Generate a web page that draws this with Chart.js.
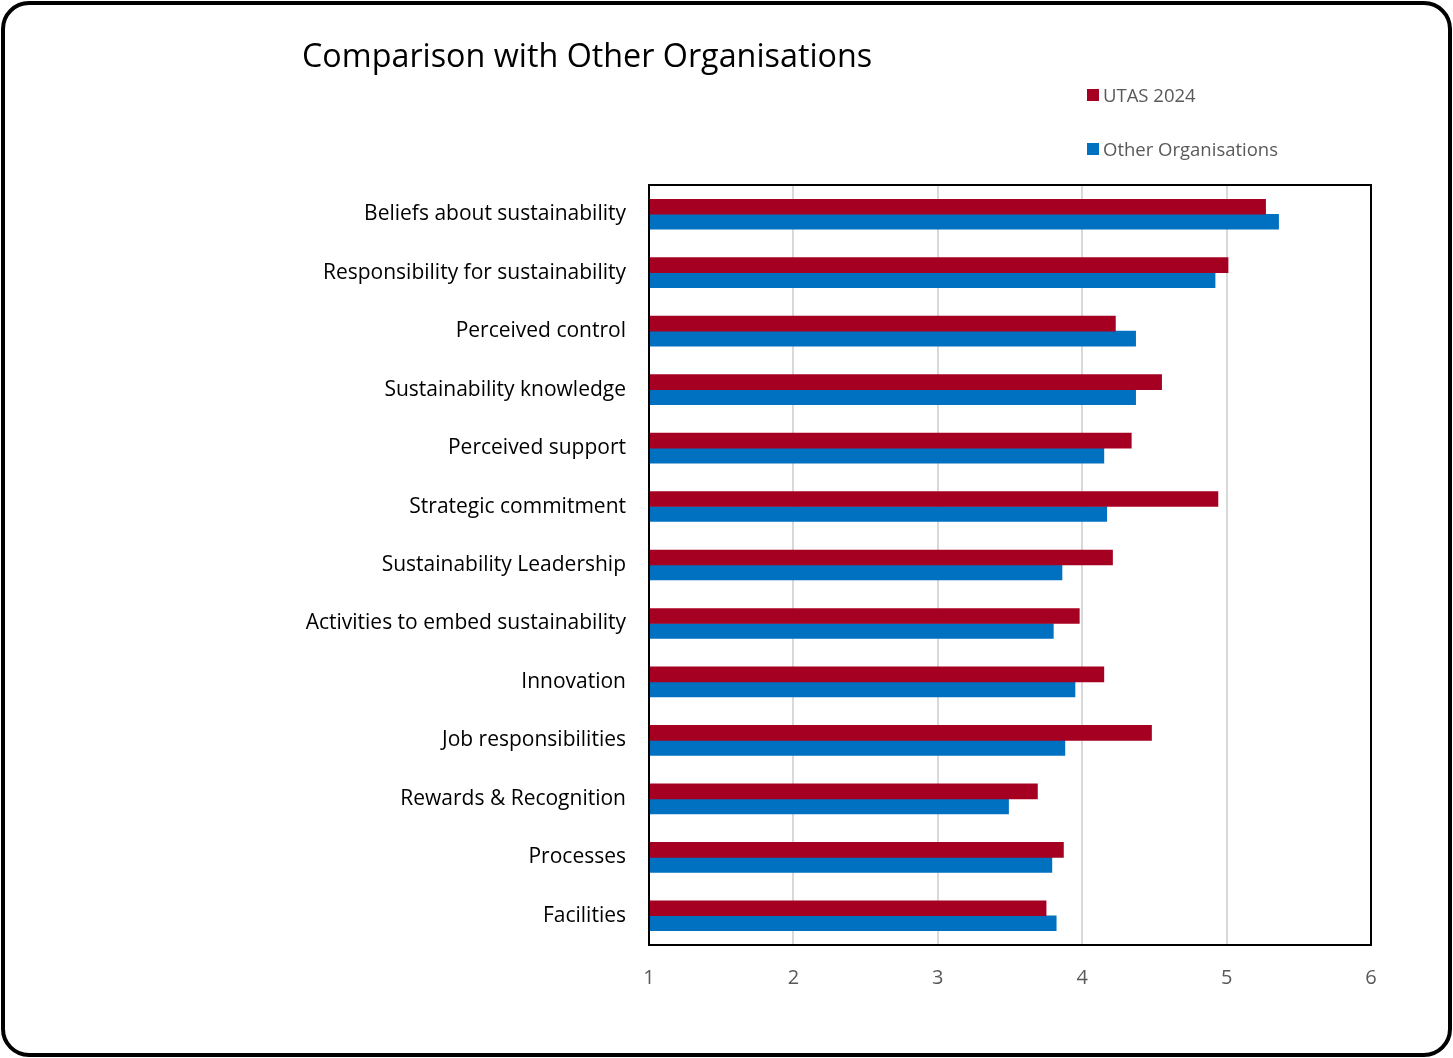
<!DOCTYPE html>
<html>
<head>
<meta charset="utf-8">
<script src="https://cdn.jsdelivr.net/npm/chart.js@4/dist/chart.umd.min.js"></script>
<style>
  body { margin: 0; background: #fff; font-family: "Open Sans", sans-serif; }
  #wrap { position: relative; width: 1453px; height: 1058px; }
  #frame { position: absolute; left: 1px; top: 1px; width: 1443px; height: 1048px;
           border: 4px solid #000; border-radius: 28px; pointer-events: none; }
  #title { position: absolute; left: 302px; top: 32px; font-size: 32.3px; color: #000; white-space: nowrap; }
  #legend { position: absolute; left: 1087px; top: 82px; font-size: 18.5px; color: #595959; }
  #legend div { height: 54px; display: flex; align-items: flex-start; }
  #legend span.box { display: inline-block; width: 12px; height: 12px; margin: 7px 4px 0 0; }
  canvas { position: absolute; left: 0; top: 0; }
</style>
</head>
<body>
<div id="wrap">
  <canvas id="chart" width="1453" height="1058"></canvas>
  <div id="title">Comparison with Other Organisations</div>
  <div id="legend"></div>
  <div id="frame"></div>
</div>
<script>
const categories = [
  'Beliefs about sustainability',
  'Responsibility for sustainability',
  'Perceived control',
  'Sustainability knowledge',
  'Perceived support',
  'Strategic commitment',
  'Sustainability Leadership',
  'Activities to embed sustainability',
  'Innovation',
  'Job responsibilities',
  'Rewards & Recognition',
  'Processes',
  'Facilities'
];
const utas2024 = [5.27, 5.01, 4.23, 4.55, 4.34, 4.94, 4.21, 3.98, 4.15, 4.48, 3.69, 3.87, 3.75];
const otherOrgs = [5.36, 4.92, 4.37, 4.37, 4.15, 4.17, 3.86, 3.80, 3.95, 3.88, 3.49, 3.79, 3.82];
const xTicks = [1, 2, 3, 4, 5, 6];

const seriesNames = ['UTAS 2024', 'Other Organisations'];
const seriesColors = ['#A50021', '#0070C0'];

const frameBox = {
    id: 'frameBox',
    afterDatasetsDraw(chart) {
        const a = chart.chartArea;
        const ctx = chart.ctx;
        ctx.save();
        ctx.strokeStyle = '#000';
        ctx.lineWidth = 2;
        ctx.strokeRect(a.left, a.top, a.right - a.left, a.bottom - a.top);
        ctx.restore();
    }
};

new Chart(document.getElementById('chart').getContext('2d'), {
    type: 'bar',
    data: {
        labels: categories,
        datasets: [
            { label: seriesNames[0], data: utas2024, backgroundColor: seriesColors[0], barThickness: 15 },
            { label: seriesNames[1], data: otherOrgs, backgroundColor: seriesColors[1], barThickness: 15 }
        ]
    },
    options: {
        indexAxis: 'y',
        responsive: false,
        animation: false,
        layout: { padding: { left: 0, right: 82, top: 185, bottom: 0 } },
        plugins: { legend: { display: false }, title: { display: false }, tooltip: { enabled: false } },
        scales: {
            x: {
                min: 1,
                max: 6,
                afterBuildTicks(scale) { scale.ticks = xTicks.map(v => ({ value: v })); },
                afterFit(scale) { scale.height = 113; },
                grid: {
                    drawTicks: false,
                    color: ctx => (ctx.tick && (ctx.tick.value === 1 || ctx.tick.value === 6)) ? 'rgba(0,0,0,0)' : '#d9d9d9',
                    lineWidth: 2
                },
                border: { display: false },
                ticks: { color: '#595959', font: { family: 'Open Sans', size: 20 }, padding: 21 }
            },
            y: {
                afterFit(scale) { scale.width = 649; },
                grid: { display: false, drawTicks: false },
                border: { display: false },
                ticks: { color: '#000', font: { family: 'Open Sans', size: 21 }, padding: 23, crossAlign: 'near' }
            }
        }
    },
    plugins: [frameBox]
});

const legend = document.getElementById('legend');
seriesNames.forEach((name, i) => {
    const row = document.createElement('div');
    row.innerHTML = `<span class="box" style="background:${seriesColors[i]}"></span>${name}`;
    legend.appendChild(row);
});
</script>
</body>
</html>
